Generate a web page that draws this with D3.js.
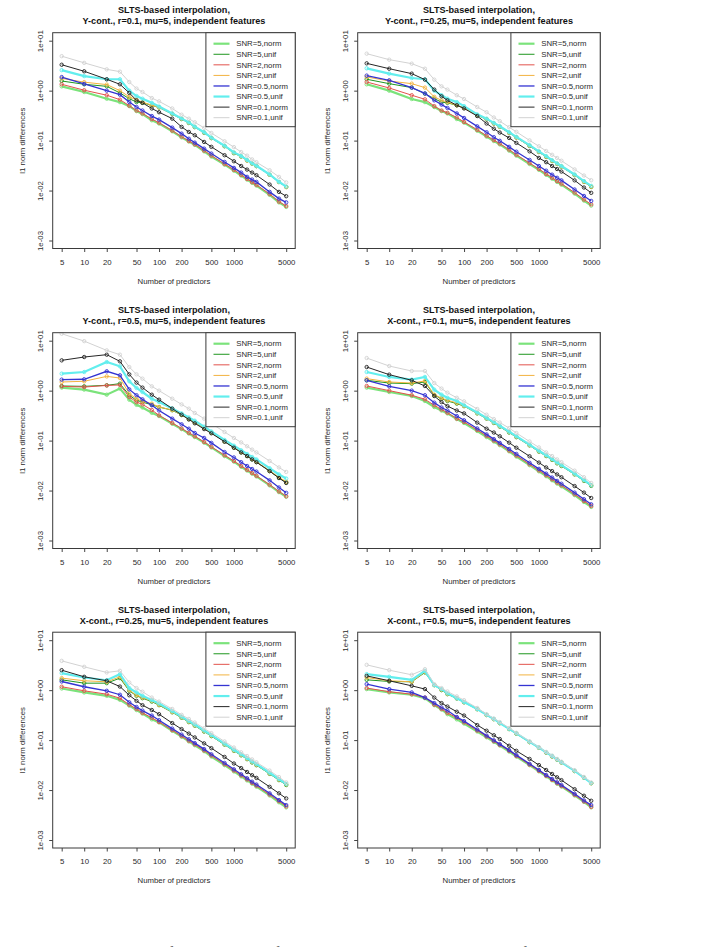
<!DOCTYPE html>
<html lang="en">
<head>
<meta charset="UTF-8">
<title>SLTS-based interpolation</title>
<style>
  body { margin: 0; background: #fff; }
  svg { display: block; font-family: "Liberation Sans", Arial, sans-serif; }
  .tick text { fill: #2a2a2a; }
  .tick line { stroke: #444; }
</style>
</head>
<body>
<script src="https://d3js.org/d3.v7.min.js"></script>
<script>
const predictors = [5, 10, 20, 30, 40, 50, 60, 80, 100, 150, 200, 250, 300, 400, 500, 750, 1000, 1250, 1500, 1750, 2000, 3000, 4000, 5000];
const seriesLabels = ["SNR=5,norm", "SNR=5,unif", "SNR=2,norm", "SNR=2,unif", "SNR=0.5,norm", "SNR=0.5,unif", "SNR=0.1,norm", "SNR=0.1,unif"];
const seriesColors = ["#7be37b", "#1f961f", "#e2534c", "#f2b340", "#3434d2", "#62eeee", "#262626", "#d2d2d2"];
const seriesWidths = [2.2, 1, 1, 1, 1.3, 2.2, 1, 1];
const xTickValues = [5, 10, 20, 50, 100, 200, 500, 1000, 2000, 5000];
const xTickLabels = ["5", "10", "20", "50", "100", "200", "500", "1000", "", "5000"];
const yTickValues = [1e-3, 1e-2, 1e-1, 1, 10];
const yTickLabels = ["1e-03", "1e-02", "1e-01", "1e+00", "1e+01"];
const panelTitles = [
  "Y-cont., r=0.1, mu=5, independent features",
  "Y-cont., r=0.25, mu=5, independent features",
  "Y-cont., r=0.5, mu=5, independent features",
  "X-cont., r=0.1, mu=5, independent features",
  "X-cont., r=0.25, mu=5, independent features",
  "X-cont., r=0.5, mu=5, independent features"
];

// one row per series, in legend order
const yCont01 = [
  [1.22,0.94,0.69,0.59,0.49,0.39,0.34,0.255,0.22,0.154,0.116,0.096,0.082,0.061,0.048,0.033,0.025,0.02,0.0166,0.0143,0.0126,0.0082,0.0058,0.0047],
  [1.56,1.34,1.22,0.9,0.69,0.59,0.57,0.51,0.46,0.34,0.27,0.225,0.186,0.143,0.112,0.077,0.056,0.048,0.04,0.0345,0.0308,0.0207,0.0148,0.0118],
  [1.34,1.02,0.81,0.66,0.5,0.4,0.35,0.27,0.228,0.158,0.12,0.098,0.084,0.063,0.05,0.034,0.026,0.0206,0.0171,0.0147,0.013,0.0085,0.006,0.0049],
  [1.76,1.48,1.32,1.0,0.75,0.66,0.59,0.51,0.46,0.345,0.273,0.228,0.188,0.145,0.113,0.078,0.057,0.048,0.04,0.0345,0.031,0.0207,0.0148,0.0117],
  [1.87,1.36,1.0,0.83,0.59,0.47,0.40,0.31,0.263,0.182,0.138,0.109,0.091,0.069,0.055,0.0374,0.0284,0.0229,0.0188,0.0166,0.0149,0.0094,0.0069,0.0058],
  [2.57,1.95,1.69,1.69,1.0,0.78,0.69,0.57,0.48,0.35,0.278,0.232,0.19,0.147,0.115,0.079,0.058,0.049,0.041,0.035,0.0313,0.021,0.015,0.012],
  [3.3,2.44,1.69,1.34,0.9,0.64,0.57,0.44,0.37,0.275,0.188,0.149,0.128,0.094,0.075,0.051,0.0386,0.031,0.0263,0.0229,0.0203,0.0132,0.0094,0.0077],
  [4.9,3.6,2.67,2.4,1.49,1.1,0.94,0.71,0.61,0.44,0.33,0.275,0.233,0.18,0.142,0.097,0.074,0.059,0.05,0.042,0.037,0.0255,0.0188,0.0145]
];
const yCont025 = [
  [1.34,1.0,0.68,0.59,0.47,0.39,0.35,0.27,0.229,0.158,0.12,0.098,0.084,0.063,0.05,0.034,0.026,0.0207,0.0173,0.0149,0.0131,0.0087,0.0063,0.005],
  [1.69,1.38,1.15,0.87,0.69,0.59,0.57,0.51,0.45,0.32,0.267,0.219,0.188,0.142,0.115,0.078,0.059,0.047,0.039,0.034,0.03,0.0203,0.0149,0.0118],
  [1.49,1.13,0.81,0.67,0.49,0.40,0.36,0.29,0.236,0.164,0.125,0.102,0.087,0.066,0.052,0.0355,0.027,0.0215,0.018,0.0155,0.0137,0.0091,0.0066,0.0053],
  [1.88,1.56,1.38,1.15,0.75,0.64,0.59,0.51,0.45,0.322,0.268,0.22,0.189,0.143,0.116,0.079,0.0595,0.0475,0.0395,0.0343,0.0302,0.0205,0.015,0.0119],
  [2.0,1.61,1.15,0.88,0.64,0.525,0.45,0.35,0.284,0.193,0.147,0.117,0.099,0.075,0.06,0.041,0.031,0.025,0.0208,0.018,0.016,0.0105,0.0078,0.0062],
  [2.8,2.19,1.79,1.69,1.0,0.81,0.69,0.59,0.49,0.335,0.275,0.226,0.194,0.147,0.119,0.081,0.061,0.049,0.0405,0.035,0.031,0.021,0.0155,0.0124],
  [3.52,2.75,2.19,1.66,1.05,0.77,0.64,0.51,0.44,0.31,0.22,0.173,0.145,0.113,0.09,0.061,0.045,0.037,0.031,0.027,0.024,0.016,0.0115,0.009],
  [5.5,4.17,3.47,2.75,1.66,1.22,1.05,0.81,0.68,0.47,0.37,0.29,0.245,0.185,0.15,0.101,0.077,0.062,0.052,0.045,0.0395,0.0265,0.02,0.0161]
];
const yCont05 = [
  [1.15,1.05,0.83,1.1,0.66,0.52,0.46,0.36,0.31,0.218,0.17,0.139,0.118,0.091,0.073,0.049,0.038,0.030,0.0252,0.0218,0.0192,0.0127,0.0093,0.0075],
  [1.24,1.22,1.28,1.38,0.81,0.64,0.59,0.52,0.47,0.405,0.325,0.27,0.232,0.178,0.143,0.096,0.072,0.058,0.049,0.042,0.0373,0.0245,0.018,0.0145],
  [1.22,1.18,1.27,1.3,0.75,0.59,0.53,0.41,0.32,0.225,0.175,0.143,0.122,0.094,0.075,0.051,0.039,0.031,0.026,0.0224,0.0197,0.0131,0.0096,0.0077],
  [1.49,1.54,1.93,1.79,0.87,0.69,0.61,0.55,0.47,0.41,0.33,0.275,0.235,0.18,0.145,0.097,0.073,0.059,0.05,0.043,0.038,0.025,0.0185,0.015],
  [1.66,1.69,2.44,2.03,1.06,0.81,0.67,0.51,0.40,0.275,0.212,0.173,0.142,0.113,0.09,0.059,0.046,0.037,0.031,0.027,0.024,0.016,0.0115,0.009],
  [2.19,2.36,3.74,3.07,1.54,1.13,0.94,0.69,0.59,0.44,0.35,0.29,0.25,0.19,0.152,0.103,0.079,0.064,0.054,0.047,0.042,0.028,0.021,0.0174],
  [4.04,4.71,5.25,3.86,2.12,1.45,1.15,0.83,0.66,0.436,0.33,0.265,0.222,0.17,0.14,0.095,0.072,0.058,0.049,0.042,0.037,0.0245,0.0178,0.0142],
  [13.8,9.8,6.4,5.25,2.97,2.12,1.74,1.22,1.0,0.69,0.53,0.436,0.357,0.275,0.22,0.149,0.113,0.092,0.077,0.066,0.058,0.039,0.029,0.0236]
];
const xCont01 = [
  [1.15,0.94,0.78,0.62,0.47,0.40,0.35,0.27,0.225,0.156,0.118,0.096,0.081,0.061,0.048,0.0322,0.0243,0.0194,0.0161,0.0138,0.0122,0.0081,0.0059,0.0047],
  [1.61,1.42,1.38,1.49,0.81,0.69,0.62,0.55,0.49,0.35,0.275,0.225,0.19,0.145,0.117,0.08,0.06,0.049,0.041,0.035,0.031,0.021,0.0156,0.0124],
  [1.24,1.0,0.81,0.67,0.51,0.42,0.36,0.275,0.236,0.163,0.124,0.1,0.084,0.063,0.05,0.0335,0.0253,0.0202,0.0168,0.0144,0.0127,0.0084,0.0062,0.0049],
  [1.74,1.49,1.42,1.56,0.83,0.71,0.64,0.57,0.49,0.355,0.28,0.229,0.194,0.148,0.119,0.081,0.061,0.05,0.042,0.0358,0.0317,0.0214,0.016,0.0128],
  [1.61,1.22,1.0,0.81,0.575,0.46,0.40,0.31,0.255,0.175,0.133,0.107,0.09,0.068,0.054,0.036,0.0272,0.0218,0.0182,0.0156,0.0137,0.0091,0.0067,0.0053],
  [2.36,1.88,1.66,1.88,1.05,0.83,0.72,0.62,0.51,0.365,0.285,0.234,0.198,0.151,0.122,0.083,0.0625,0.051,0.0427,0.0365,0.0323,0.0218,0.0162,0.0128],
  [2.97,2.09,1.61,1.24,0.78,0.59,0.49,0.40,0.35,0.229,0.173,0.145,0.122,0.091,0.072,0.0486,0.0363,0.029,0.0245,0.021,0.0185,0.0123,0.0091,0.0071],
  [4.5,3.11,2.47,2.47,1.42,1.1,0.91,0.72,0.61,0.43,0.33,0.27,0.23,0.178,0.142,0.096,0.073,0.058,0.049,0.042,0.037,0.025,0.0185,0.0142]
];
const xCont025 = [
  [1.08,0.9,0.77,0.64,0.49,0.40,0.34,0.26,0.226,0.154,0.117,0.094,0.079,0.06,0.047,0.0315,0.0236,0.0188,0.0156,0.0134,0.0117,0.0078,0.0057,0.0045],
  [1.61,1.38,1.38,1.74,0.97,0.77,0.69,0.59,0.5,0.36,0.28,0.229,0.194,0.148,0.12,0.081,0.061,0.0495,0.0415,0.0356,0.0314,0.0211,0.0158,0.0126],
  [1.17,0.97,0.83,0.69,0.51,0.42,0.35,0.28,0.23,0.158,0.12,0.097,0.082,0.062,0.049,0.0328,0.0246,0.0196,0.0163,0.0139,0.0122,0.0081,0.006,0.0047],
  [1.74,1.54,1.47,1.85,1.0,0.79,0.71,0.61,0.51,0.365,0.285,0.233,0.198,0.151,0.122,0.083,0.062,0.0505,0.0423,0.0363,0.032,0.0216,0.0162,0.013],
  [1.49,1.17,0.97,0.81,0.57,0.46,0.39,0.31,0.25,0.17,0.129,0.104,0.087,0.066,0.052,0.0348,0.026,0.0207,0.0172,0.0147,0.0129,0.0086,0.0063,0.005],
  [2.19,1.79,1.58,2.09,1.1,0.9,0.77,0.63,0.54,0.38,0.295,0.24,0.205,0.156,0.126,0.085,0.064,0.052,0.0435,0.0373,0.033,0.0222,0.0166,0.0132],
  [2.51,1.85,1.54,1.18,0.79,0.61,0.5,0.40,0.33,0.219,0.166,0.135,0.113,0.086,0.069,0.046,0.034,0.0275,0.023,0.0198,0.0175,0.0116,0.0086,0.0068],
  [3.86,2.93,2.26,2.44,1.42,1.1,0.93,0.71,0.59,0.42,0.32,0.265,0.225,0.172,0.138,0.094,0.071,0.057,0.048,0.041,0.036,0.0245,0.0182,0.0142]
];
const xCont05 = [
  [1.05,0.9,0.81,0.69,0.5,0.41,0.33,0.26,0.215,0.149,0.114,0.092,0.078,0.059,0.047,0.0315,0.0237,0.0189,0.0157,0.0134,0.0118,0.0078,0.0058,0.0045],
  [1.61,1.49,1.47,2.26,1.26,1.0,0.83,0.68,0.57,0.415,0.318,0.262,0.218,0.166,0.134,0.091,0.07,0.056,0.047,0.0405,0.0356,0.024,0.0176,0.0137],
  [1.1,0.93,0.83,0.71,0.51,0.42,0.35,0.28,0.226,0.155,0.118,0.095,0.08,0.061,0.048,0.0322,0.0242,0.0193,0.016,0.0137,0.012,0.008,0.0059,0.0046],
  [1.79,1.54,1.47,2.33,1.26,1.02,0.84,0.69,0.575,0.418,0.318,0.263,0.218,0.167,0.135,0.091,0.0705,0.0565,0.0475,0.0407,0.0357,0.0241,0.0177,0.0137],
  [1.32,1.05,0.9,0.71,0.55,0.45,0.39,0.29,0.24,0.163,0.123,0.099,0.083,0.063,0.05,0.0335,0.0252,0.02,0.0167,0.0143,0.0126,0.0084,0.0062,0.005],
  [2.09,1.85,1.61,2.44,1.26,1.05,0.86,0.69,0.58,0.42,0.32,0.265,0.22,0.168,0.136,0.092,0.071,0.057,0.048,0.041,0.036,0.0243,0.0178,0.0138],
  [1.93,1.54,1.22,1.05,0.71,0.55,0.47,0.37,0.31,0.2,0.154,0.125,0.105,0.077,0.061,0.042,0.0316,0.0252,0.021,0.018,0.0158,0.0104,0.0077,0.0061],
  [3.21,2.51,2.03,2.63,1.32,1.1,0.94,0.75,0.63,0.44,0.33,0.27,0.23,0.175,0.14,0.095,0.072,0.058,0.049,0.042,0.037,0.025,0.0183,0.0142]
];
const panelData = [yCont01, yCont025, yCont05, xCont01, xCont025, xCont05];

const width = 715, height = 947;
const plotW = 242.5, plotH = 215.8;
const colLeft = [52.7, 357.7];
const rowTop = [32.7, 332.7, 632.2];
const fs = 7.8;

const svg = d3.select("body").append("svg").attr("width", width).attr("height", height);
svg.append("rect").attr("width", width).attr("height", height).attr("fill", "#fff");

// R style 4% padding on the log range
const x = d3.scaleLog().domain([5 / Math.pow(10, 0.12), 5000 * Math.pow(10, 0.12)]).range([0, plotW]);
const y = d3.scaleLog().domain([1e-3 / Math.pow(10, 0.16), 10 * Math.pow(10, 0.16)]).range([plotH, 0]);

const line = d3.line().x((d, i) => x(predictors[i])).y(d => y(d));

panelData.forEach((series, p) => {
  const g = svg.append("g").attr("transform", `translate(${colLeft[p % 2]},${rowTop[Math.floor(p / 2)]})`);

  const clipId = "clip" + p;
  g.append("clipPath").attr("id", clipId).append("rect").attr("width", plotW).attr("height", plotH);

  // titles
  const title = g.append("text").attr("text-anchor", "middle").attr("font-weight", "bold")
    .attr("font-size", 9.1).attr("fill", "#111");
  title.append("tspan").attr("x", plotW / 2).attr("y", -19.4).text("SLTS-based interpolation,");
  title.append("tspan").attr("x", plotW / 2).attr("y", -8.7).text(panelTitles[p]);

  // axes
  const xAxis = d3.axisBottom(x).tickValues(xTickValues).tickFormat((d, i) => xTickLabels[i])
    .tickSize(3.5).tickPadding(7).tickSizeOuter(0);
  g.append("g").attr("transform", `translate(0,${plotH})`).call(xAxis)
    .call(a => a.select(".domain").remove())
    .call(a => a.selectAll("text").attr("font-size", fs).attr("font-family", null));

  const yAxis = d3.axisLeft(y).tickValues(yTickValues).tickFormat((d, i) => yTickLabels[i])
    .tickSize(3.5).tickSizeOuter(0);
  g.append("g").call(yAxis)
    .call(a => a.select(".domain").remove())
    .call(a => a.selectAll("text").attr("font-size", fs).attr("font-family", null)
      .attr("x", null).attr("dy", null).attr("text-anchor", "middle")
      .attr("transform", "translate(-9.9,0) rotate(-90)"));

  g.append("text").attr("font-size", fs).attr("fill", "#2a2a2a").attr("text-anchor", "middle")
    .attr("x", plotW / 2).attr("y", plotH + 35.5).text("Number of predictors");
  g.append("text").attr("font-size", fs).attr("fill", "#2a2a2a").attr("text-anchor", "middle")
    .attr("transform", `translate(-28.2,${plotH / 2}) rotate(-90)`).text("l1 norm differences");

  // series
  const data = g.append("g").attr("clip-path", `url(#${clipId})`);
  series.forEach((vals, s) => {
    data.append("path").datum(vals).attr("d", line).attr("fill", "none")
      .attr("stroke", seriesColors[s]).attr("stroke-width", seriesWidths[s]);
    data.selectAll(null).data(vals).join("circle")
      .attr("cx", (d, i) => x(predictors[i])).attr("cy", d => y(d)).attr("r", 1.7)
      .attr("fill", "none").attr("stroke", seriesColors[s]).attr("stroke-width", 0.9);
  });

  // box
  g.append("rect").attr("width", plotW).attr("height", plotH).attr("fill", "none")
    .attr("stroke", "#3a3a3a").attr("stroke-width", 1);

  // legend
  const lg = g.append("g").attr("transform", `translate(${plotW - 89.3},0)`);
  lg.append("rect").attr("width", 89.3).attr("height", 94).attr("fill", "#fff")
    .attr("stroke", "#3a3a3a").attr("stroke-width", 1);
  seriesLabels.forEach((lab, s) => {
    const cy = 11 + s * 10.57;
    lg.append("line").attr("x1", 7.6).attr("x2", 23.6).attr("y1", cy).attr("y2", cy)
      .attr("stroke", seriesColors[s]).attr("stroke-width", seriesWidths[s]);
    lg.append("text").attr("x", 30.3).attr("y", cy + 2.8).attr("font-size", fs)
      .attr("fill", "#2a2a2a").text(lab);
  });
});

// top edge of the next caption line of the document, cut off by the page edge
const cap = svg.append("g").attr("font-family", "'Liberation Serif', 'DejaVu Serif', serif")
  .attr("font-size", 15).attr("fill", "#333");
cap.append("text").attr("x", 2).attr("y", 957).text("Figure 6:   ℓ₁ norm ‖β̂ − β‖₁ of the interpolated fits");
cap.append("text").attr("x", 415).attr("y", 957).text("and the ℓ₁ norm of β̂ in SLTS with the");
</script>
</body>
</html>
